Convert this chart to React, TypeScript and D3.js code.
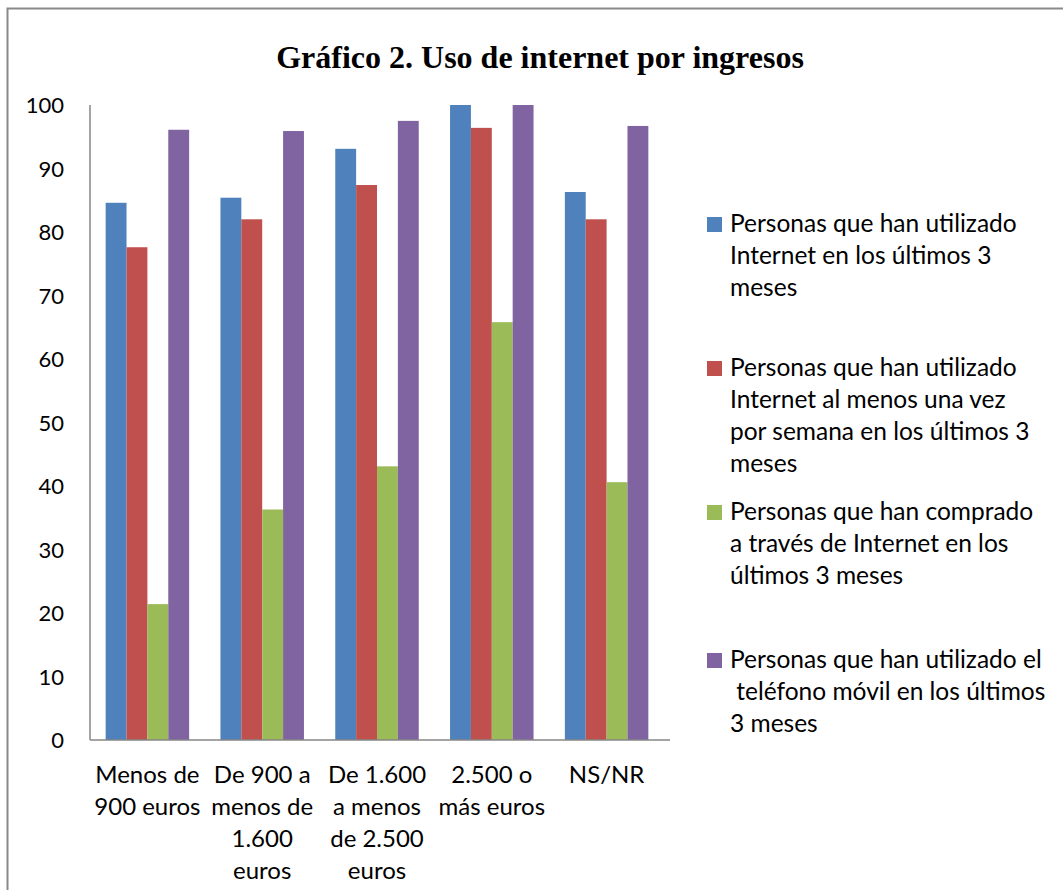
import React from "react";
import * as d3 from "d3";

const categories = ["Menos de 900 euros", "De 900 a menos de 1.600 euros", "De 1.600 a menos de 2.500 euros", "2.500 o más euros", "NS/NR"];
const categoryLines = [
  ["Menos de", "900 euros"],
  ["De 900 a", "menos de", "1.600", "euros"],
  ["De 1.600", "a menos", "de 2.500", "euros"],
  ["2.500 o", "más euros"],
  ["NS/NR"],
];
const seriesNames = [
  "Personas que han utilizado Internet en los últimos 3 meses",
  "Personas que han utilizado Internet al menos una vez por semana en los últimos 3 meses",
  "Personas que han comprado a través de Internet en los últimos 3 meses",
  "Personas que han utilizado el teléfono móvil en los últimos 3 meses",
];
const legendLines = [
  ["Personas que han utilizado", "Internet en los últimos 3", "meses"],
  ["Personas que han utilizado", "Internet al menos una vez", "por semana en los últimos 3", "meses"],
  ["Personas que han comprado", "a través de Internet en los", "últimos 3 meses"],
  ["Personas que han utilizado el", "\u00a0teléfono móvil en los últimos", "3 meses"],
];
const internet3m = [84.6, 85.4, 93.1, 100, 86.3];
const internetSemanal = [77.6, 82.0, 87.4, 96.4, 82.0];
const compraInternet = [21.4, 36.3, 43.1, 65.8, 40.6];
const telefonoMovil = [96.1, 95.9, 97.5, 100, 96.7];
const seriesValues = [internet3m, internetSemanal, compraInternet, telefonoMovil];
const colors = ["#4F81BD", "#C0504D", "#9BBB59", "#8064A2"];
const yTicks = [0, 10, 20, 30, 40, 50, 60, 70, 80, 90, 100];
const title = "Gráfico 2. Uso de internet por ingresos";

export default function App() {
  const W = 1063, H = 890;
  const left = 90, right = 664, top = 105, bottom = 740;
  const gap = 1.5 / 5.5;
  const x0 = d3.scaleBand<string>().domain(categories).range([left, right]).paddingInner(gap).paddingOuter(gap / 2);
  const x1 = d3.scaleBand<number>().domain(d3.range(seriesNames.length)).range([0, x0.bandwidth()]);
  const y = d3.scaleLinear().domain([0, 100]).range([bottom, top]);
  const font = "Lato, 'Open Sans', sans-serif";
  const legendY = [232, 376, 520, 668];
  const lh = 32;
  return (
    <svg width={W} height={H} style={{ position: "absolute", left: 0, top: 0, background: "#fff" }}>
      <rect x={7.5} y={8.5} width={1200} height={1000} fill="#fff" stroke="#898989" strokeWidth={2} />
      <text x={540} y={68} textAnchor="middle" fontFamily="'Liberation Serif', 'Times New Roman', serif" fontWeight="bold" fontSize={32} fill="#000">{title}</text>
      {yTicks.map((t) => (
        <text key={t} x={64} y={y(t) + 8} textAnchor="end" fontFamily={font} fontSize={22} fill="#000">{t}</text>
      ))}
      {seriesValues.map((vals, si) =>
        vals.map((v, ci) => (
          <rect key={`${si}-${ci}`} x={(x0(categories[ci]) as number) + (x1(si) as number)} y={y(v)} width={x1.bandwidth()} height={y(0) - y(v)} fill={colors[si]} />
        ))
      )}
      <line x1={left} y1={top} x2={left} y2={bottom} stroke="#868686" strokeWidth={1.5} />
      <line x1={left} y1={bottom} x2={right + 6} y2={bottom} stroke="#868686" strokeWidth={1.5} />
      {categories.map((c, ci) => (
        <text key={c} textAnchor="middle" fontFamily={font} fontSize={24} fill="#000">
          {categoryLines[ci].map((l, li) => (
            <tspan key={li} x={(x0(c) as number) + x0.bandwidth() / 2} y={783 + li * 32}>{l}</tspan>
          ))}
        </text>
      ))}
      {seriesNames.map((s, si) => (
        <g key={s}>
          <rect x={707} y={legendY[si] - 15} width={15} height={15} fill={colors[si]} />
          <text fontFamily={font} fontSize={24.5} fill="#000">
            {legendLines[si].map((l, li) => (
              <tspan key={li} x={730} y={legendY[si] + li * lh}>{l}</tspan>
            ))}
          </text>
        </g>
      ))}
    </svg>
  );
}
